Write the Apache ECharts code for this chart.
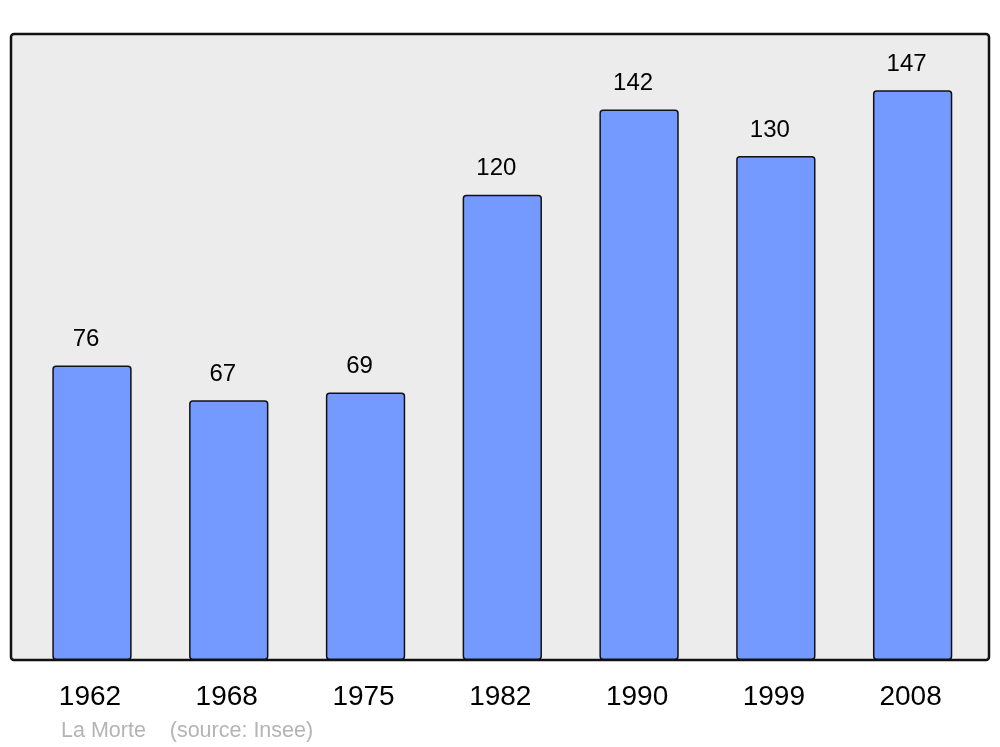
<!DOCTYPE html>
<html><head><meta charset="utf-8">
<script src="https://cdn.jsdelivr.net/npm/echarts@6/dist/echarts.min.js"></script>
<style>html,body{margin:0;padding:0;background:#fff;}#c{width:1000px;height:747px;}</style>
</head><body><div id="c"></div>
<script>
const years = ['1962','1968','1975','1982','1990','1999','2008'];
const population = [76, 67, 69, 120, 142, 130, 147];
const footer = 'La Morte    (source: Insee)';

const chart = echarts.init(document.getElementById('c'), null, {renderer:'canvas'});
chart.setOption({
  animation:false,
  backgroundColor:'#ffffff',
  textStyle:{fontFamily:'Liberation Sans, Arial, sans-serif'},
  title:{text:footer,left:56,top:715,textStyle:{fontSize:21.5,fontWeight:'normal',color:'#b4b4b4',fontFamily:'Liberation Sans, Arial, sans-serif'}},
  graphic:[{type:'rect',z:-10,silent:true,shape:{x:11,y:34,width:978,height:626,r:3},style:{fill:'#ececec',stroke:'#111111',lineWidth:2.5}}],
  grid:{left:23.6,right:19,top:34,bottom:87},
  xAxis:{type:'category',data:years,axisLine:{show:false},axisTick:{show:false},
    axisLabel:{fontSize:28,color:'#000',margin:23,padding:[0,4,0,0],fontFamily:'Liberation Sans, Arial, sans-serif'}},
  yAxis:{type:'value',min:0,max:161.5,show:false,splitLine:{show:false}},
  series:[{type:'bar',data:population,barWidth:'58%',
    itemStyle:{color:'#7499ff',borderColor:'#111111',borderWidth:1.5,borderRadius:3},
    label:{show:true,position:'top',distance:14,offset:[-6,0],fontSize:24,color:'#000',fontFamily:'Liberation Sans, Arial, sans-serif'}}]
});
</script></body></html>
